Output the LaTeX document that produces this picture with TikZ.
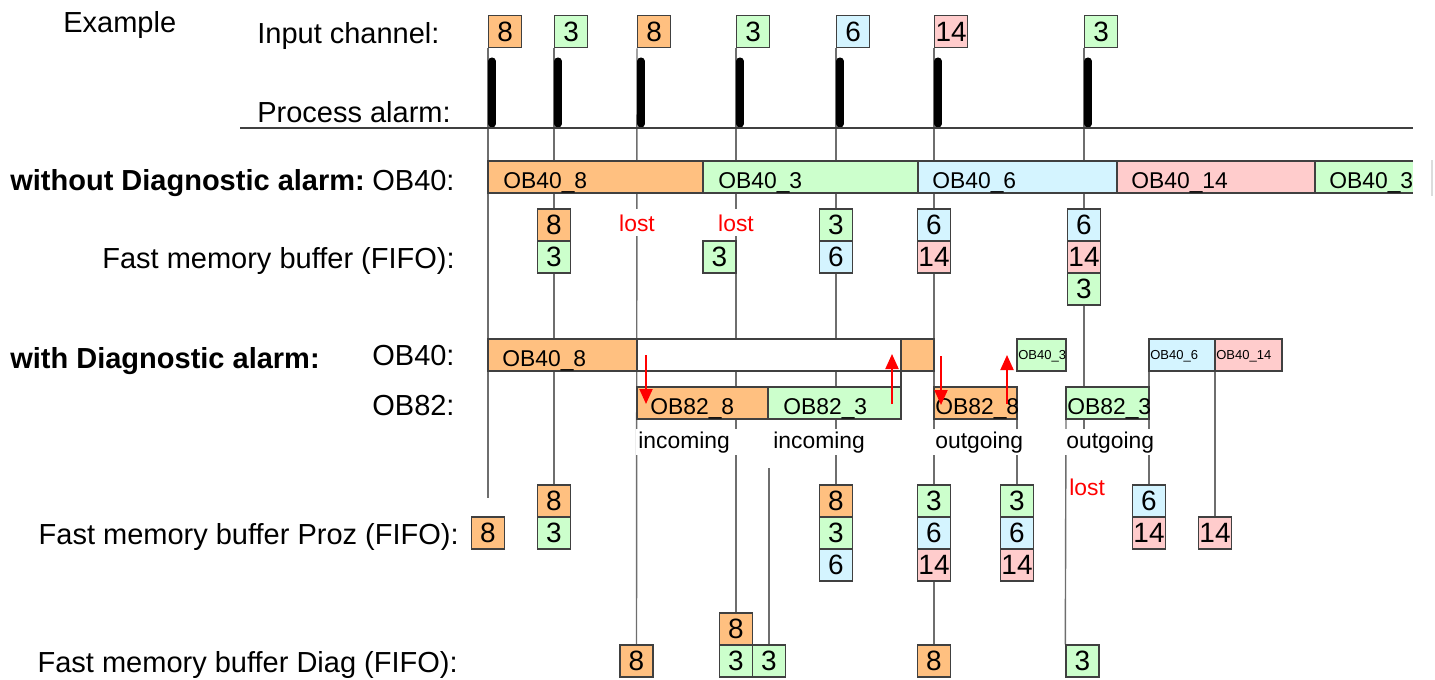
\documentclass[tikz,border=0pt]{standalone}
\usepackage{fontspec}
\setmainfont{Liberation Sans}
\usepackage{xcolor}
\definecolor{obeight}{RGB}{255, 192, 128}
\definecolor{obthree}{RGB}{204, 255, 204}
\definecolor{obsix}{RGB}{212, 244, 255}
\definecolor{obfourteen}{RGB}{255, 204, 204}
\definecolor{edgegrey}{RGB}{64, 64, 64}
\definecolor{linegrey}{RGB}{110, 110, 110}
\definecolor{paleline}{RGB}{220, 220, 220}
\usetikzlibrary{
  arrows.meta,
  positioning,
  backgrounds
}

\tikzset{
  numbox/.style={draw=edgegrey, line width=0.8pt, minimum width=6.6mm, minimum height=6.4mm,
    inner sep=0pt, font=\fontsize{15.9}{16}\selectfont},
  lab/.style={anchor=base west, inner sep=0pt, font=\fontsize{16.5}{18}\selectfont},
  bartxt/.style={anchor=base west, inner sep=0pt, font=\fontsize{13}{14}\selectfont},
  tinytxt/.style={anchor=base west, inner sep=0pt, font=\fontsize{7.4}{8}\selectfont},
  bar/.style={draw=edgegrey, line width=0.8pt},
  timeline/.style={draw=linegrey, line width=0.8pt},
  alarmmark/.style={line width=4pt, line cap=round},
  losttxt/.style={font=\fontsize{13}{14}\selectfont, text=red, fill=white, inner xsep=0pt, inner ysep=1mm},
  phasetxt/.style={font=\fontsize{13}{14}\selectfont, fill=white, anchor=base west,
    text width=20mm, align=left, inner xsep=0.4mm, inner ysep=0.5mm},
  alarmarrow/.style={draw=red, line width=1.1pt, -{Triangle[width=2.6mm, length=3mm]}}
}

\begin{document}
\begin{tikzpicture}[x=0.2mm, y=-0.2mm]
  \useasboundingbox (0,0) rectangle (1435,679);

  % ---------- labels on the left ----------
  \node[lab] (example) at (63,32) {Example};
  \node[lab] (inlab) at (257,43) {Input channel:};
  \node[lab] (prolab) at (257,122) {Process alarm:};
  \node[lab] (without) at (10,190) {\bfseries without Diagnostic alarm:};
  \node[lab] (obwithout) at (372,190) {OB40:};
  \node[lab, anchor=base east] (fifolab) at (455,268) {Fast memory buffer (FIFO):};
  \node[lab] (with) at (10,368) {\bfseries with Diagnostic alarm:};
  \node[lab] (obwith) at (372,365) {OB40:};
  \node[lab] (obdiag) at (372,415) {OB82:};
  \node[lab, anchor=base east] (prozlab) at (459,544) {Fast memory buffer Proz (FIFO):};
  \node[lab, anchor=base east] (diaglab) at (458,672) {Fast memory buffer Diag (FIFO):};

  % ---------- input channel and process alarms ----------
  \foreach \n/\x/\v/\c in {in1/488/8/obeight, in2/554/3/obthree, in3/637/8/obeight,
      in4/736/3/obthree, in5/836/6/obsix, in6/934/14/obfourteen, in7/1084/3/obthree} {
    \node[numbox, fill=\c, anchor=north west] (\n) at (\x,15) {\v};
    \draw[alarmmark] (\x+4,61) -- (\x+4,124);
  }
  \draw[bar] (240,128) -- (1413,128);

  % ---------- without diagnostic alarm ----------
  \draw[bar, fill=obeight] (488,161) rectangle (703,193);
  \draw[bar, fill=obthree] (703,161) rectangle (918,193);
  \draw[bar, fill=obsix] (918,161) rectangle (1117,193);
  \draw[bar, fill=obfourteen] (1117,161) rectangle (1315,193);
  \fill[obthree] (1315,161) rectangle (1413,193);
  \draw[bar] (1413,161) -- (1315,161) -- (1315,193) -- (1413,193);
  \draw[paleline, line width=0.8pt] (1432,160) -- (1432,196);
  \foreach \n/\x/\t in {wa/503/OB40\_8, wb/718/OB40\_3, wc/932/OB40\_6,
      wd/1131/OB40\_14, we/1329/OB40\_3}
    \node[bartxt] (\n) at (\x,188) {\t};

  % FIFO without diagnostic alarm
  \foreach \n/\x/\y/\v/\c in {fa1/554/225/8/obeight, fa2/554/257/3/obthree,
      fb1/719.5/257/3/obthree,
      fc1/836/225/3/obthree, fc2/836/257/6/obsix,
      fd1/934/225/6/obsix, fd2/934/257/14/obfourteen,
      fe1/1084/225/6/obsix, fe2/1084/257/14/obfourteen, fe3/1084/289/3/obthree}
    \node[numbox, fill=\c] (\n) at (\x,\y) {\v};
  \node[losttxt, anchor=base] (lost1) at (637,231) {lost};
  \node[losttxt, anchor=base] (lost2) at (736,231) {lost};

  % ---------- with diagnostic alarm ----------
  \draw[bar, fill=obeight] (488,339) rectangle (637,371);
  \draw[bar, fill=white] (637,339) rectangle (901,371);
  \draw[bar, fill=obeight] (901,339) rectangle (934,371);
  \draw[bar] (901,371) -- (901,387);
  \draw[bar, fill=obthree] (1017,339) rectangle (1066,371);
  \draw[bar, fill=obsix] (1149,339) rectangle (1215,371);
  \draw[bar, fill=obfourteen] (1215,339) rectangle (1282,371);
  \node[bartxt] (da) at (502,366) {OB40\_8};
  \node[tinytxt] (db) at (1018,359) {OB40\_3};
  \node[tinytxt] (dc) at (1150,359) {OB40\_6};
  \node[tinytxt] (dd) at (1216,359) {OB40\_14};

  \draw[bar, fill=obeight] (637,387) rectangle (768,419);
  \draw[bar, fill=obthree] (768,387) rectangle (901,419);
  \draw[bar, fill=obeight] (934,387) rectangle (1017,419);
  \draw[bar, fill=obthree] (1066,387) rectangle (1149,419);
  \node[bartxt] (ka) at (650,414) {OB82\_8};
  \node[bartxt] (kb) at (783,414) {OB82\_3};
  \node[bartxt] (kc) at (935,414) {OB82\_8};
  \node[bartxt] (kd) at (1067,414) {OB82\_3};

  \node[phasetxt] (inc1) at (636,448) {incoming};
  \node[phasetxt] (inc2) at (771,448) {incoming};
  \node[phasetxt] (out1) at (933,448) {outgoing};
  \node[phasetxt] (out2) at (1064,448) {outgoing};

  % alarm jumps between OB40 and OB82
  \coordinate (dn1s) at (646,355);  \coordinate (dn1e) at (646,404);
  \coordinate (up1s) at (892,404);  \coordinate (up1e) at (892,354);
  \coordinate (dn2s) at (941,356);  \coordinate (dn2e) at (941,405);
  \coordinate (up2s) at (1007,404); \coordinate (up2e) at (1007,355);
  \draw[alarmarrow] (dn1s) -- (dn1e);
  \draw[alarmarrow] (up1s) -- (up1e);
  \draw[alarmarrow] (dn2s) -- (dn2e);
  \draw[alarmarrow] (up2s) -- (up2e);

  % FIFO Proz
  \foreach \n/\x/\y/\v/\c in {pa1/488/533/8/obeight,
      pb1/554/501/8/obeight, pb2/554/533/3/obthree,
      pc1/836/501/8/obeight, pc2/836/533/3/obthree, pc3/836/565/6/obsix,
      pd1/934/501/3/obthree, pd2/934/533/6/obsix, pd3/934/565/14/obfourteen,
      pe1/1017/501/3/obthree, pe2/1017/533/6/obsix, pe3/1017/565/14/obfourteen,
      pf1/1149/501/6/obsix, pf2/1149/533/14/obfourteen,
      pg1/1215/533/14/obfourteen}
    \node[numbox, fill=\c] (\n) at (\x,\y) {\v};
  \node[losttxt, anchor=base west, fill=none] (lost3) at (1069,495) {lost};

  % FIFO Diag
  \foreach \n/\x/\y/\v/\c in {ga1/636.5/661/8/obeight,
      gb1/736/629/8/obeight, gb2/736/661/3/obthree,
      gc1/769/661/3/obthree,
      gd1/934/661/8/obeight,
      ge1/1082.5/661/3/obthree}
    \node[numbox, fill=\c] (\n) at (\x,\y) {\v};

  % ---------- time lines (behind everything) ----------
  \coordinate (endA) at (488,498);
  \coordinate (startH) at (769,468);
  \coordinate (startI) at (1017,419);
  \coordinate (endG) at (1084,455);
  \coordinate (startJ) at (1066,419);
  \coordinate (startK) at (1149,371);
  \coordinate (startL) at (1215,371);
  \begin{scope}[on background layer]
    \draw[timeline] (in1.south west) -- (endA);
    \draw[timeline] (in2.south west) -- (pb1.north);
    \draw[timeline] (in3.south west) -- (ga1.north);
    \draw[timeline] (in4.south west) -- (gb1.north);
    \draw[timeline] (startH) -- (gc1.north);
    \draw[timeline] (in5.south west) -- (pc1.north);
    \draw[timeline] (in6.south west) -- (gd1.north);
    \draw[timeline] (startI) -- (pe1.north);
    \draw[timeline] (in7.south west) -- (endG);
    \draw[timeline] (startJ) -- (ge1.north west);
    \draw[timeline] (startK) -- (pf1.north);
    \draw[timeline] (startL) -- (pg1.north);
  \end{scope}

\end{tikzpicture}
\end{document}
